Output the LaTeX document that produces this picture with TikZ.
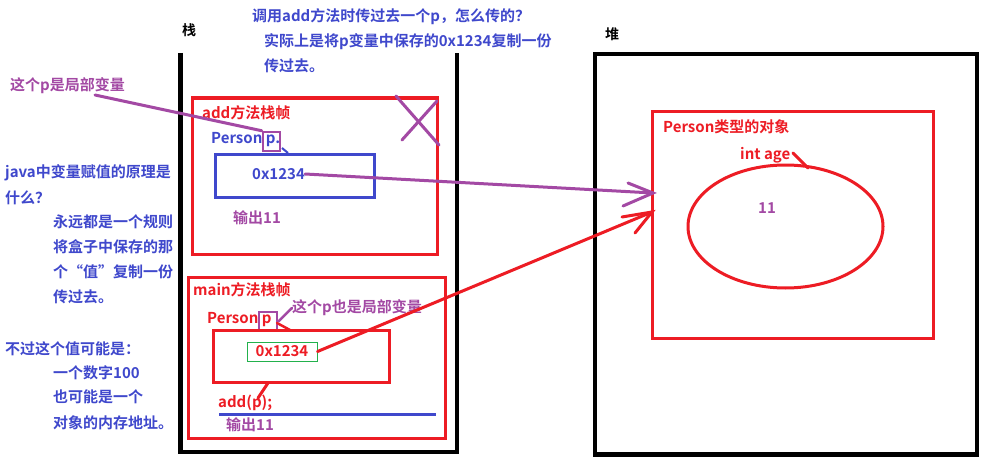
\documentclass[tikz,border=0pt]{standalone}
\usepackage{fontspec}
\setmainfont{Noto Sans CJK SC}[BoldFont={Noto Sans CJK SC Bold}]
\usetikzlibrary{shapes.geometric}
\definecolor{pred}{HTML}{ED1C24}
\definecolor{pblue}{HTML}{3F48CC}
\definecolor{ppurple}{HTML}{A349A4}
\definecolor{pgreen}{HTML}{22B14C}
\begin{document}
\begin{tikzpicture}[x=1pt,y=-1pt,
  txt/.style={anchor=west,inner sep=0pt,font=\fontsize{15}{18}\selectfont\bfseries},
  ttl/.style={anchor=west,inner sep=0pt,font=\fontsize{14}{16}\selectfont\bfseries,text=black},
  blk/.style={draw=black,line width=4.5pt,line join=miter},
  redbox/.style={draw=pred,line width=3pt,inner sep=0pt,minimum width=#1},
  bluebox/.style={draw=pblue,line width=3pt,inner sep=0pt},
  purpbox/.style={draw=ppurple,line width=2.5pt,inner sep=0pt},
  redln/.style={draw=pred,line width=3pt,line cap=round},
  purpln/.style={draw=ppurple,line width=3pt,line cap=round},
  blueln/.style={draw=pblue,line width=3pt},
]
\useasboundingbox (0,0) rectangle (983,460);
\fill[white] (0,0) rectangle (983,460);

% containers
\coordinate (stl) at (180.5,53);
\coordinate (sbl) at (180.5,452);
\coordinate (sbr) at (457,452);
\coordinate (str) at (457,53);
\draw[blk] (stl) -- (sbl) -- (sbr) -- (str);
\node[draw=black,line width=4.5pt,inner sep=0pt,minimum width=382,minimum height=400.5] (heap) at (786,254.25) {};
\node[ttl] (zhan) at (182,30) {栈};
\node[ttl] (dui) at (605,34) {堆};

% top explanation
\node[txt,text=pblue] (q1) at (252,17) {调用add方法时传过去一个p，怎么传的？};
\node[txt,text=pblue] (q2) at (264,42) {实际上是将p变量中保存的0x1234复制一份};
\node[txt,text=pblue] (q3) at (264,66) {传过去。};

% left explanation
\node[txt,text=ppurple] (local1) at (10,86) {这个p是局部变量};
\node[txt,text=pblue] (l1) at (5,173) {java中变量赋值的原理是};
\node[txt,text=pblue] (l2) at (5,198) {什么？};
\node[txt,text=pblue] (l3) at (53,222) {永远都是一个规则};
\node[txt,text=pblue] (l4) at (53,247) {将盒子中保存的那};
\node[txt,text=pblue] (l5) at (53,272) {个“值”复制一份};
\node[txt,text=pblue] (l6) at (53,297) {传过去。};
\node[txt,text=pblue] (l7) at (5,349) {不过这个值可能是：};
\node[txt,text=pblue] (l8) at (53,373) {一个数字100};
\node[txt,text=pblue] (l9) at (53,397) {也可能是一个};
\node[txt,text=pblue] (l10) at (53,423) {对象的内存地址。};

% add frame
\node[redbox=245,minimum height=156] (addframe) at (314.5,176) {};
\node[txt,text=pred] (addtitle) at (202,113) {add方法栈帧};
\node[txt,text=pblue] (addp) at (211,140) {Person p.};
\node[purpbox,minimum width=17,minimum height=19] (pbox1) at (271.5,141.5) {};
\node[bluebox,minimum width=159,minimum height=43] (addbox) at (294.5,175.5) {};
\node[txt,text=pblue] (addval) at (252,174) {0x1234};
\node[txt,text=ppurple] (addout) at (233,218) {输出11};
\coordinate (bl1) at (282,148);
\coordinate (bl2) at (288,153);
\draw[blueln,line width=2pt] (bl1) -- (bl2);
\coordinate (x1a) at (396,96);
\coordinate (x1b) at (439,145);
\coordinate (x2a) at (402,140);
\coordinate (x2b) at (437,101);
\draw[purpln] (x1a) -- (x1b);
\draw[purpln] (x2a) -- (x2b);
\coordinate (lc) at (95,95);
\draw[purpln] (lc) -- (pbox1.north west);

% main frame
\node[redbox=257,minimum height=161] (mainframe) at (316.5,357.5) {};
\node[txt,text=pred] (maintitle) at (193,290) {main方法栈帧};
\node[txt,text=pred] (mainp) at (207,320) {Person p};
\node[purpbox,minimum width=18,minimum height=19] (pbox2) at (268,321.5) {};
\node[txt,text=ppurple] (local2) at (292,308) {这个p也是局部变量};
\draw[purpln,line width=2.5pt] (pbox2.east) -- (local2.west);
\coordinate (rl1) at (277,323);
\coordinate (rl2) at (290,330);
\draw[redln,line width=2.5pt] (rl1) -- (rl2);
\node[redbox=176,minimum height=52] (mainbox) at (301,356) {};
\node[draw=pgreen,line width=1pt,inner sep=0pt,minimum width=70,minimum height=19,
      text=pred,font=\fontsize{15}{18}\selectfont\bfseries] (mainval) at (282,351.5) {0x1234};
\coordinate (rs1) at (268,383);
\coordinate (rs2) at (258,398);
\draw[redln] (rs1) -- (rs2);
\node[txt,text=pred] (addcall) at (218,403) {add(p);};
\coordinate (bu1) at (219,414);
\coordinate (bu2) at (436,414);
\draw[blueln] (bu1) -- (bu2);
\node[txt,text=ppurple] (mainout) at (226,425) {输出11};

% heap object
\node[redbox=281,minimum height=227] (obj) at (792.5,224.5) {};
\node[txt,text=pred] (objtitle) at (663,127) {Person类型的对象};
\node[txt,text=pred] (age) at (740,155) {int age};
\node[ellipse,draw=pred,line width=3pt,inner sep=0pt,minimum width=195,minimum height=123] (ell) at (785.5,226.5) {};
\node[txt,text=ppurple] (eleven) at (758,208) {11};
\coordinate (ag1) at (793,153);
\coordinate (ag2) at (808,168);
\draw[redln] (ag1) -- (ag2);

% arrows
\coordinate (ptip) at (653,193);
\coordinate (ph1) at (628,183);
\coordinate (ph2) at (623,206);
\draw[purpln] (addval.east) -- (ptip);
\draw[purpln] (ph1) -- (ptip) -- (ph2);
\coordinate (rtip) at (652,212);
\coordinate (rh1) at (622,217);
\coordinate (rh2) at (635,233);
\draw[redln] (mainval.east) -- (rtip);
\draw[redln] (rh1) -- (rtip) -- (rh2);
\end{tikzpicture}
\end{document}
